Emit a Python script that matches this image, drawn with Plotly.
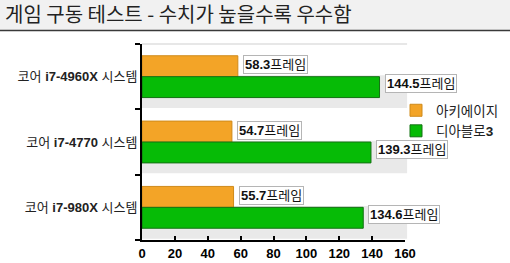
import plotly.graph_objects as go

# ---- data ----
models = ["i7-4960X", "i7-4770", "i7-980X"]
archeage = [58.3, 54.7, 55.7]
diablo = [144.5, 139.3, 134.6]
series_names = ["아키에이지", "디아블로<b>3</b>"]
x_ticks = [0, 20, 40, 60, 80, 100, 120, 140, 160]
title_text = "게임 구동 테스트 - 수치가 높을수록 우수함"

cats = [f"코어 {m} 시스템" for m in models]
ticktext = [f"코어 <b>{m}</b> 시스템" for m in models]

FONT = "Liberation Sans, Arial, Noto Sans CJK KR, sans-serif"
W, H = 510, 263
L, R, T, B = 142, 105, 44, 23
plot_h = H - T - B
plot_w = W - L - R

fig = go.Figure()
fig.add_trace(go.Bar(
    y=cats, x=archeage, orientation="h", name=series_names[0],
    marker=dict(color="#f3a427", line=dict(color="#cf8a1a", width=1)),
))
fig.add_trace(go.Bar(
    y=cats, x=diablo, orientation="h", name=series_names[1],
    marker=dict(color="#06bb06", line=dict(color="#137213", width=1)),
))

shapes = []
# title bar
shapes.append(dict(type="rect", xref="paper", yref="paper",
                   x0=-L / plot_w, x1=1 + R / plot_w,
                   y0=1 + (T - 30) / plot_h, y1=1 + T / plot_h + 0.02,
                   fillcolor="#f1f1f1", line=dict(width=0), layer="below"))
shapes.append(dict(type="line", xref="paper", yref="paper",
                   x0=-L / plot_w, x1=1 + R / plot_w,
                   y0=1 + (T - 30.5) / plot_h, y1=1 + (T - 30.5) / plot_h,
                   line=dict(color="#3a3a3a", width=1.5)))
# grey lower half of each category band
for i in range(len(cats)):
    shapes.append(dict(type="rect", xref="paper", yref="y",
                       x0=0, x1=1.008, y0=i - 0.02, y1=i + 0.48,
                       fillcolor="#e9e9e9", line=dict(width=0), layer="below"))
# top border line
shapes.append(dict(type="line", xref="paper", yref="paper", x0=0, x1=1.008,
                   y0=1, y1=1, line=dict(color="#cfcfcf", width=1), layer="below"))

annotations = []
for i, c in enumerate(cats):
    annotations.append(dict(
        x=archeage[i], y=c, xref="x", yref="y", xanchor="left", yanchor="middle",
        xshift=5, yshift=12, showarrow=False,
        text=f"<b>{archeage[i]}</b>프레임",
        font=dict(family=FONT, size=13, color="#111"),
        bgcolor="white", bordercolor="#b5b5b5", borderwidth=1, borderpad=1))
    annotations.append(dict(
        x=diablo[i], y=c, xref="x", yref="y", xanchor="left", yanchor="middle",
        xshift=5, yshift=-7, showarrow=False,
        text=f"<b>{diablo[i]}</b>프레임",
        font=dict(family=FONT, size=13, color="#111"),
        bgcolor="white", bordercolor="#b5b5b5", borderwidth=1, borderpad=1))

fig.update_layout(
    width=W, height=H,
    margin=dict(l=L, r=R, t=T, b=B, autoexpand=False),
    paper_bgcolor="white", plot_bgcolor="white",
    barmode="group", bargap=0.36, bargroupgap=0,
    title=dict(text=title_text, x=5 / W, xref="container", xanchor="left",
               y=1 - 15 / H, yref="container", yanchor="middle",
               font=dict(family="Noto Sans CJK KR", size=20, color="#222")),
    shapes=shapes, annotations=annotations,
    showlegend=True,
    legend=dict(x=(396 - L) / plot_w, y=(T + plot_h - 95) / plot_h, xref="paper",
                xanchor="left", yanchor="top", traceorder="normal",
                bgcolor="rgba(0,0,0,0)", font=dict(family=FONT, size=13.5, color="#222"),
                tracegroupgap=0, itemwidth=30),
)
fig.update_xaxes(range=[0, 160], tickvals=x_ticks, showgrid=False, zeroline=False,
                 showline=True, linecolor="black", linewidth=2,
                 ticks="inside", ticklen=4, tickwidth=2, tickcolor="black",
                 tickfont=dict(family=FONT, size=13, color="black", weight="bold"))
fig.update_yaxes(autorange="reversed", tickmode="array", tickvals=cats, ticktext=ticktext,
                 tickson="boundaries", showgrid=False, zeroline=False,
                 showline=True, linecolor="black", linewidth=2,
                 ticks="outside", ticklen=5, tickwidth=2, tickcolor="black",
                 tickfont=dict(family=FONT, size=13, color="#222"))

fig.write_html("out.html")
